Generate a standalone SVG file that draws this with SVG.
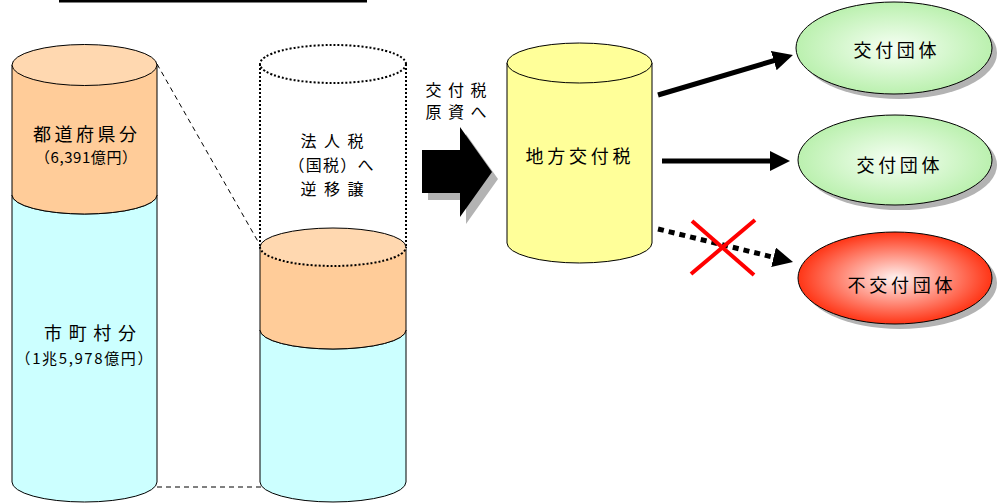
<svg xmlns="http://www.w3.org/2000/svg" width="998" height="504" viewBox="0 0 998 504">
<style>
text{font-family:"Noto Sans CJK JP","Noto Sans",sans-serif;fill:#000;text-anchor:middle}
.t18{font-size:18px}
.t16{font-size:16px}
.t15{font-size:15px}
.ol{stroke:#000;stroke-width:1}
.dot{fill:none;stroke:#000;stroke-width:2;stroke-dasharray:2 2}
.dash{fill:none;stroke:#000;stroke-width:1;stroke-dasharray:5 4}
.arr{fill:none;stroke:#000;stroke-width:5}
</style>
<defs>
<radialGradient id="gG" cx="50%" cy="50%" r="55%">
<stop offset="0" stop-color="#F6FFF4"/><stop offset="1" stop-color="#B5EFA8"/>
</radialGradient>
<radialGradient id="gR" cx="50%" cy="50%" r="55%">
<stop offset="0" stop-color="#FFF2F0"/><stop offset="1" stop-color="#FF2200"/>
</radialGradient>
<marker id="ah" markerUnits="userSpaceOnUse" markerWidth="22" markerHeight="22" refX="9" refY="10" orient="auto">
<path d="M0,0 L20,10 L0,20 z" fill="#000"/>
</marker>
</defs>

<line x1="59" y1="1" x2="367" y2="1" stroke="#000" stroke-width="3"/>

<g id="conn">
<line class="dash" x1="157" y1="64" x2="260" y2="245"/>
<line class="dash" x1="157" y1="487" x2="268" y2="487" stroke="#444"/>
<g id="bigArrow">
<polygon points="428,157 466,157 466,134 498,179 466,224 466,200 428,200" fill="#B3B3B3"/>
<polygon points="422,150 460,150 460,127 492,172 460,217 460,193 422,193" fill="#000"/>
</g>
<line class="arr" x1="658" y1="95" x2="782.4" y2="58.1" marker-end="url(#ah)"/>
<line class="arr" x1="662" y1="161" x2="779" y2="161" marker-end="url(#ah)"/>
<line class="arr" x1="658" y1="229" x2="782.3" y2="259.4" stroke-dasharray="6 5" marker-end="url(#ah)"/>
<g id="cross" stroke="#FF0000" stroke-width="4">
<line x1="692" y1="221" x2="754" y2="275"/>
<line x1="755" y1="220" x2="691" y2="274"/>
</g>
</g>

<g id="prefCyl">
<path class="ol" d="M12,482 L12,195 A72.5,19 0 0 0 157,195 L157,482 A72.5,20 0 0 1 12,482 z" fill="#CCFFFF"/>
<path class="ol" d="M12,65 L12,195 A72.5,19 0 0 0 157,195 L157,65 z" fill="#FFCC99"/>
<ellipse class="ol" cx="84.5" cy="65" rx="72.5" ry="20.5" fill="#FFD8B0"/>
<text class="t18" x="85" y="141" textLength="104" lengthAdjust="spacing">都道府県分</text>
<text class="t15" x="86" y="163" textLength="102" lengthAdjust="spacing">（6,391億円）</text>
<text class="t18" x="90" y="340" textLength="92" lengthAdjust="spacing">市町村分</text>
<text class="t15" x="84" y="364" textLength="137" lengthAdjust="spacing">（1兆5,978億円）</text>
</g>

<g id="transCyl">
<ellipse class="dot" cx="333" cy="64" rx="73" ry="19"/>
<line class="dot" x1="260" y1="64" x2="260" y2="247"/>
<line class="dot" x1="406" y1="64" x2="406" y2="247"/>
<path class="ol" d="M260,482 L260,330 A73,19 0 0 0 406,330 L406,482 A73,20 0 0 1 260,482 z" fill="#CCFFFF"/>
<path class="ol" d="M260,247 L260,330 A73,19 0 0 0 406,330 L406,247 z" fill="#FFCC99"/>
<ellipse cx="333" cy="247" rx="73" ry="19" fill="#FFD8B0"/>
<path d="M260,247 A73,19 0 0 1 406,247" fill="none" stroke="#000" stroke-width="1"/>
<path class="dot" d="M260,247 A73,19 0 0 0 406,247"/>
<text class="t16" x="332" y="147" textLength="63" lengthAdjust="spacing">法人税</text>
<text class="t16" x="331" y="171" textLength="85" lengthAdjust="spacing">（国税）へ</text>
<text class="t16" x="332" y="195" textLength="63" lengthAdjust="spacing">逆移譲</text>
</g>

<g id="label">
<text class="t16" x="456" y="96" textLength="61" lengthAdjust="spacing">交付税</text>
<text class="t16" x="456" y="118" textLength="61" lengthAdjust="spacing">原資へ</text>
</g>

<g id="chihouCyl">
<path class="ol" d="M507,63 L507,243 A72.5,20 0 0 0 652,243 L652,63 z" fill="#FFFF99"/>
<ellipse class="ol" cx="579.5" cy="63" rx="72.5" ry="20" fill="#FFFF99"/>
<text class="t18" x="578" y="163" textLength="105" lengthAdjust="spacing">地方交付税</text>
</g>

<g id="kofu1">
<ellipse cx="899" cy="53" rx="98" ry="46" fill="#B3B3B3"/>
<ellipse class="ol" cx="894" cy="48" rx="98" ry="46" fill="url(#gG)"/>
<text class="t18" x="895" y="57" textLength="83" lengthAdjust="spacing">交付団体</text>
</g>
<g id="kofu2">
<ellipse cx="900" cy="165" rx="97" ry="45" fill="#B3B3B3"/>
<ellipse class="ol" cx="895" cy="160" rx="97" ry="45" fill="url(#gG)"/>
<text class="t18" x="898" y="172" textLength="83" lengthAdjust="spacing">交付団体</text>
</g>
<g id="fukofu">
<ellipse cx="900" cy="283" rx="97" ry="46" fill="#B3B3B3"/>
<ellipse class="ol" cx="895" cy="278" rx="97" ry="46" fill="url(#gR)"/>
<text class="t18" x="900" y="292" textLength="105" lengthAdjust="spacing">不交付団体</text>
</g>
</svg>
